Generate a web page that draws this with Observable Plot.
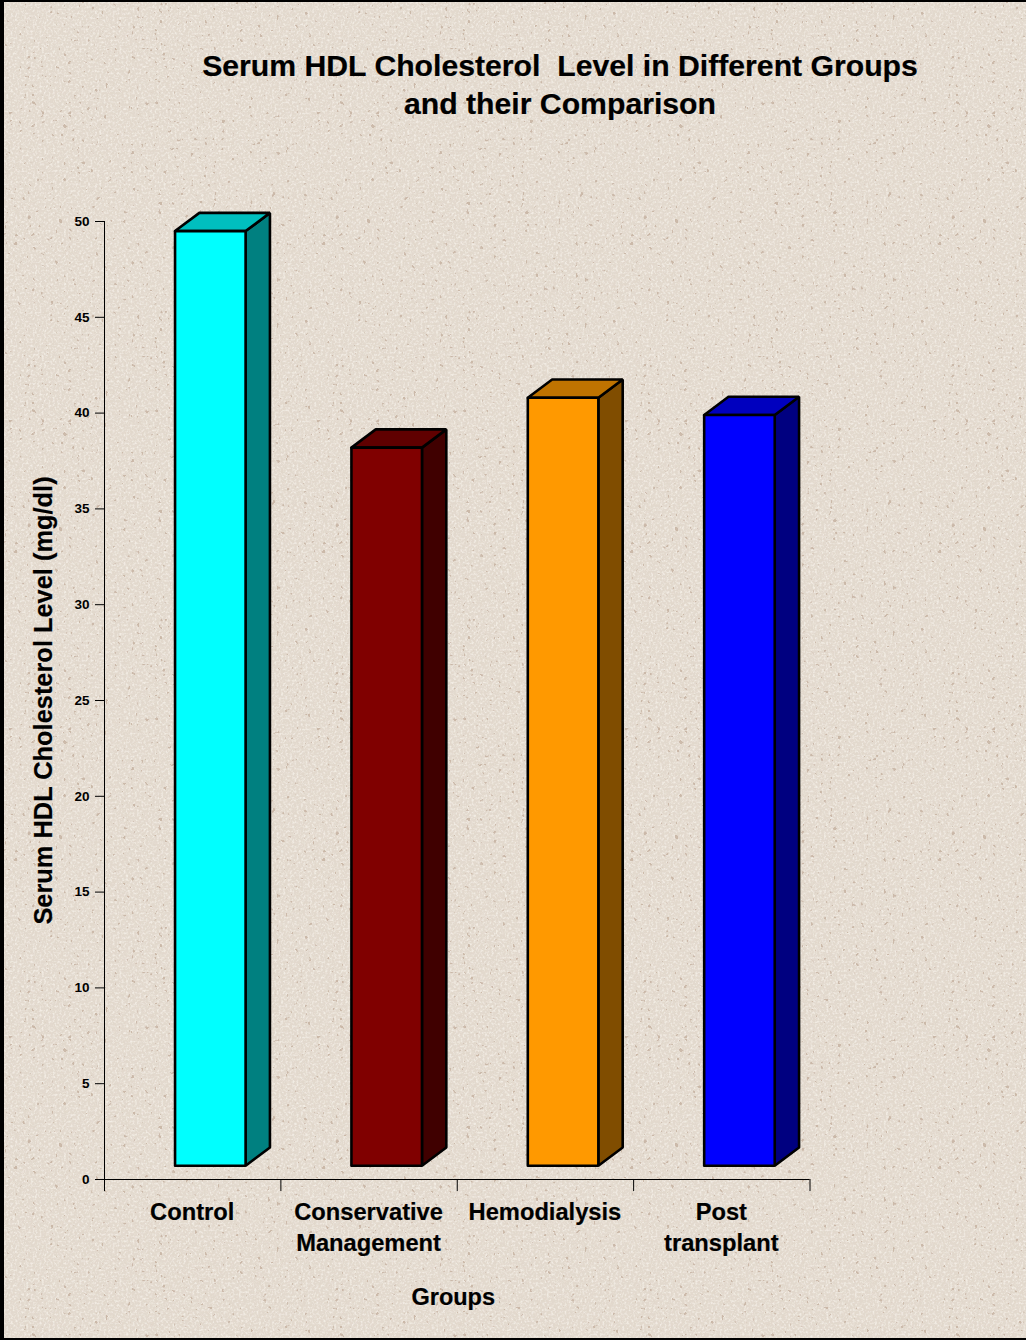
<!DOCTYPE html>
<html>
<head>
<meta charset="utf-8">
<script src="https://cdn.jsdelivr.net/npm/d3@7"></script>
<script src="https://cdn.jsdelivr.net/npm/@observablehq/plot@0.6"></script>
<style>
  html, body { margin: 0; padding: 0; }
  #page {
    position: relative; width: 1026px; height: 1340px; overflow: hidden;
    background: #e2d9cd; font-family: "Liberation Sans", Arial, sans-serif;
  }
  #paper { position: absolute; inset: 0; width: 100%; height: 100%; }
  #frame {
    position: absolute; inset: 0; box-sizing: border-box; pointer-events: none;
    border-style: solid; border-color: #000; border-width: 2px 0 2px 4px;
  }
  #title {
    position: absolute; left: 160px; width: 800px; top: 47px; margin: 0;
    text-align: center; font-size: 30.2px; line-height: 38px; font-weight: bold; color: #000;
    white-space: pre; -webkit-text-stroke: 0.2px #000;
  }
  #chart { position: absolute; left: 0; top: 0; }
</style>
</head>
<body>
<div id="page">
  <svg id="paper" xmlns="http://www.w3.org/2000/svg" aria-hidden="true">
    <defs>
      <!-- soft mottling of the paper -->
      <filter id="grain" x="0" y="0" width="100%" height="100%">
        <feTurbulence type="fractalNoise" baseFrequency="0.38" numOctaves="2" seed="7" stitchTiles="stitch"/>
        <feColorMatrix type="matrix" values="0 0 0 0 0.72  0 0 0 0 0.63  0 0 0 0 0.53  0 0 0 2.6 -1.15"/>
        <feGaussianBlur stdDeviation="0.9"/>
      </filter>
      <!-- pale highlights -->
      <filter id="light" x="0" y="0" width="100%" height="100%">
        <feTurbulence type="fractalNoise" baseFrequency="0.45" numOctaves="2" seed="41" stitchTiles="stitch"/>
        <feColorMatrix type="matrix" values="0 0 0 0 0.97  0 0 0 0 0.94  0 0 0 0 0.89  0 0 0 3 -1.35"/>
        <feGaussianBlur stdDeviation="0.7"/>
      </filter>
      <!-- sparse dark flecks -->
      <filter id="flecks" x="0" y="0" width="100%" height="100%">
        <feTurbulence type="fractalNoise" baseFrequency="0.22" numOctaves="2" seed="23" stitchTiles="stitch"/>
        <feColorMatrix type="matrix" values="0 0 0 0 0.55  0 0 0 0 0.43  0 0 0 0 0.35  0 0 0 18 -13"/>
        <feGaussianBlur stdDeviation="0.7"/>
      </filter>
      <!-- the paper repeats as a square tile -->
      <pattern id="tile" width="308" height="308" patternUnits="userSpaceOnUse" patternTransform="translate(0 2)">
        <rect width="308" height="308" fill="#e3dacf"/>
        <rect width="308" height="308" filter="url(#grain)" opacity="0.6"/>
        <rect width="308" height="308" filter="url(#light)" opacity="0.6"/>
        <rect width="308" height="308" filter="url(#flecks)" opacity="0.8"/>
      </pattern>
    </defs>
    <rect width="100%" height="100%" fill="url(#tile)"/>
  </svg>
  <h1 id="title"></h1>
  <div id="chart"></div>
  <div id="frame"></div>
</div>
<script>
// Serum HDL cholesterol by patient group
const groups = ["Control", "Conservative\nManagement", "Hemodialysis", "Post\ntransplant"];
const hdl = [49.5, 38.2, 40.8, 39.9];
const frontColors = ["#00ffff", "#800000", "#ff9900", "#0000ff"];
const topColors = ["#00bfbf", "#600000", "#bf7300", "#0000bf"];
const sideColors = ["#008080", "#400000", "#804d00", "#000080"];
const yTicks = [0, 5, 10, 15, 20, 25, 30, 35, 40, 45, 50];
const groupEdges = [0, 1, 2, 3, 4];

const titleText = "Serum HDL Cholesterol  Level in Different Groups\nand their Comparison";
const yLabel = "Serum HDL Cholesterol Level (mg/dl)";
const xLabel = "Groups";

document.getElementById("title").textContent = titleText;

// The box floats slightly above the axis floor, with an oblique extrusion
const floor = 0.72;        // front bottom edge, in mg/dl
const barLeft = 0.4;       // front left edge within a group slot
const barRight = 0.8;      // front right edge within a group slot
const depthX = 0.138;      // extrusion, in group slots
const depthY = 0.95;       // extrusion, in mg/dl

const outline = {stroke: "#000", strokeWidth: 2.6, strokeLinejoin: "miter", x: "x", y: "y", curve: "linear"};

const boxes = hdl.flatMap((v, i) => {
  const l = i + barLeft, r = i + barRight;
  const face = (pts, fill) => Plot.line(pts.map(([x, y]) => ({x, y})), {...outline, fill});
  return [
    // side face
    face([[r, v], [r + depthX, v + depthY], [r + depthX, floor + depthY], [r, floor], [r, v]], sideColors[i]),
    // top face
    face([[l, v], [l + depthX, v + depthY], [r + depthX, v + depthY], [r, v], [l, v]], topColors[i]),
    // front face
    face([[l, floor], [l, v], [r, v], [r, floor], [l, floor]], frontColors[i])
  ];
});

// Heavier lettering than the plain bold face gives on its own
const heavy = {fontWeight: "bold", fill: "#000", stroke: "#000", strokeWidth: 0.2};

const plot = Plot.plot({
  width: 1026,
  height: 1340,
  marginLeft: 104,
  marginRight: 216.5,
  marginTop: 221,
  marginBottom: 161,
  style: {background: "transparent", fontFamily: "'Liberation Sans', Arial, sans-serif", overflow: "visible"},
  x: {type: "linear", domain: [0, 4], axis: null},
  y: {type: "linear", domain: [0, 50]},
  marks: [
    ...boxes,
    // value axis, running on below the floor to the first group tick
    Plot.axisY({ticks: yTicks, label: null, tickSize: 9, tickPadding: 6, fontSize: 13.5, fontWeight: "bold", stroke: "#000", strokeWidth: 1, fill: "#000"}),
    Plot.ruleX([0], {y1: -0.63, y2: 50, stroke: "#000", strokeWidth: 1}),
    // category axis with separators between groups
    Plot.ruleY([0], {stroke: "#000", strokeWidth: 1}),
    Plot.ruleX(groupEdges, {y1: -0.63, y2: 0, stroke: "#000", strokeWidth: 1}),
    Plot.text(groups, {
      x: (d, i) => i + 0.5, y: () => 0, text: d => d, lineAnchor: "top", dy: 18, dx: -0.5, lineHeight: 1.31,
      fontSize: 23.7, ...heavy
    }),
    Plot.text([yLabel], {frameAnchor: "left", textAnchor: "middle", rotate: -90, dx: -61, fontSize: 25.4, ...heavy}),
    Plot.text([xLabel], {frameAnchor: "bottom", textAnchor: "middle", dy: 125, dx: -4, fontSize: 23.5, ...heavy})
  ]
});
document.getElementById("chart").appendChild(plot);
</script>
</body>
</html>
